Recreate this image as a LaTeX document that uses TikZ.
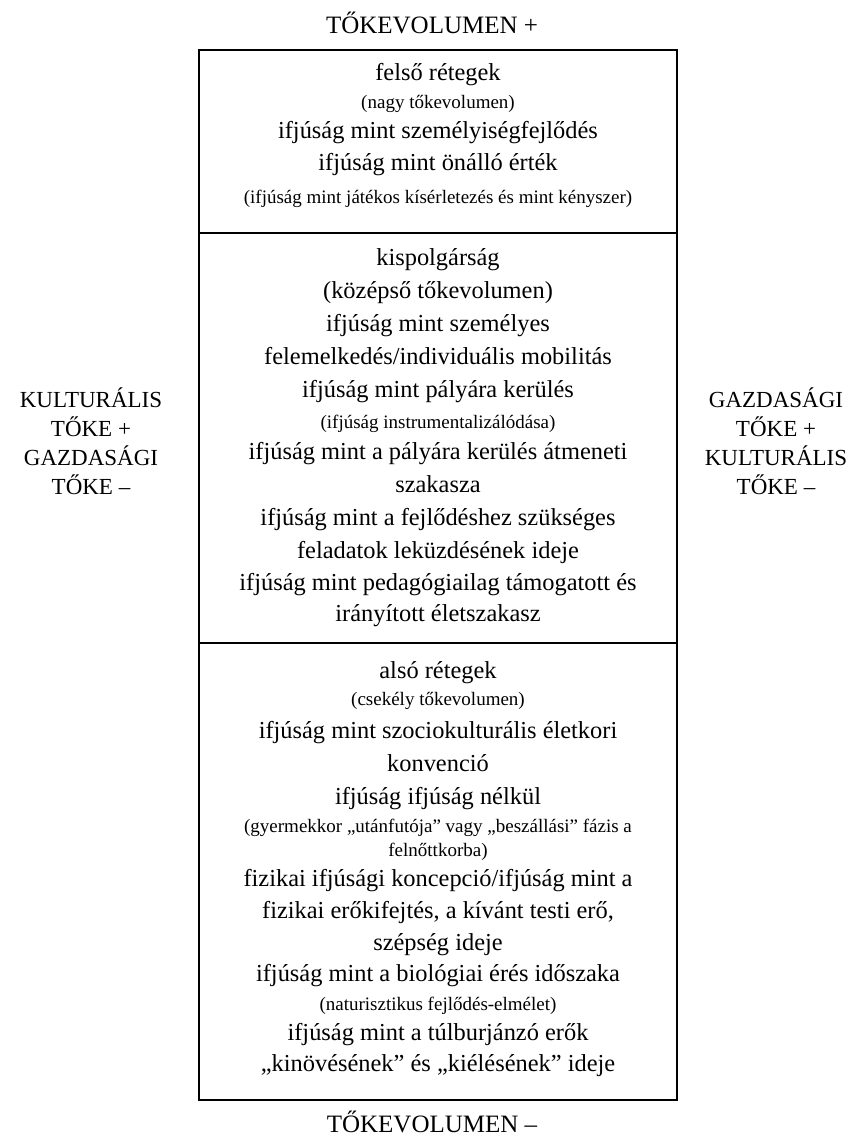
\documentclass[tikz,border=0pt]{standalone}
\usepackage{fontspec}
\setmainfont{Liberation Serif}
\usetikzlibrary{positioning}

\begin{document}
\begin{tikzpicture}[
   x=0.5pt,y=-0.5pt,
   layer/.style={draw,line width=1.2pt,minimum width=239pt,inner sep=0pt,outer sep=0pt},
   big/.style={font=\fontsize{12.2}{14}\selectfont,inner sep=0pt,text height=1.6ex,text depth=.4ex},
   note/.style={font=\fontsize{9.5}{11}\selectfont,inner sep=0pt,text height=1.6ex,text depth=.4ex},
   caps/.style={font=\fontsize{11.5}{14.5}\selectfont,align=center,inner sep=0pt},
   volume/.style={font=\fontsize{12.5}{15}\selectfont,inner sep=0pt}]
\useasboundingbox (0,0) rectangle (856,1138);
% the three strata
\node[layer,minimum height=91.5pt,anchor=north] (upper) at (438,50) {};
\node[layer,minimum height=205pt,below=0pt of upper] (middle) {};
\node[layer,minimum height=228.5pt,below=0pt of middle] (lower) {};
% axis labels
\node[volume] (volplus) at (432,23) {TŐKEVOLUMEN +};
\node[volume] (volminus) at (432,1122) {TŐKEVOLUMEN –};
\node[caps] (kultleft) at (91,441) {KULTURÁLIS\\TŐKE +\\GAZDASÁGI\\TŐKE –};
\node[caps] (gazdright) at (776,441) {GAZDASÁGI\\TŐKE +\\KULTURÁLIS\\TŐKE –};
% upper stratum
\node[big]  (u1) at (438,75)  {felső rétegek};
\node[note] (u2) at (438,103) {(nagy tőkevolumen)};
\node[big]  (u3) at (438,133) {ifjúság mint személyiségfejlődés};
\node[big]  (u4) at (438,165) {ifjúság mint önálló érték};
\node[note] (u5) at (438,198) {(ifjúság mint játékos kísérletezés és mint kényszer)};
% middle stratum
\node[big]  (m1)  at (438,260) {kispolgárság};
\node[big]  (m2)  at (438,293) {(középső tőkevolumen)};
\node[big]  (m3)  at (438,326) {ifjúság mint személyes};
\node[big]  (m4)  at (438,359) {felemelkedés/individuális mobilitás};
\node[big]  (m5)  at (438,392) {ifjúság mint pályára kerülés};
\node[note] (m6)  at (438,423) {(ifjúság instrumentalizálódása)};
\node[big]  (m7)  at (438,454) {ifjúság mint a pályára kerülés átmeneti};
\node[big]  (m8)  at (438,487) {szakasza};
\node[big]  (m9)  at (438,520) {ifjúság mint a fejlődéshez szükséges};
\node[big]  (m10) at (438,553) {feladatok leküzdésének ideje};
\node[big]  (m11) at (438,585) {ifjúság mint pedagógiailag támogatott és};
\node[big]  (m12) at (438,616) {irányított életszakasz};
% lower stratum
\node[big]  (l1)  at (438,673)  {alsó rétegek};
\node[note] (l2)  at (438,700)  {(csekély tőkevolumen)};
\node[big]  (l3)  at (438,733)  {ifjúság mint szociokulturális életkori};
\node[big]  (l4)  at (438,766)  {konvenció};
\node[big]  (l5)  at (438,799)  {ifjúság ifjúság nélkül};
\node[note] (l6)  at (438,827)  {(gyermekkor „utánfutója” vagy „beszállási” fázis a};
\node[note] (l7)  at (438,851)  {felnőttkorba)};
\node[big]  (l8)  at (438,881)  {fizikai ifjúsági koncepció/ifjúság mint a};
\node[big]  (l9)  at (438,913)  {fizikai erőkifejtés, a kívánt testi erő,};
\node[big]  (l10) at (438,945)  {szépség ideje};
\node[big]  (l11) at (438,976)  {ifjúság mint a biológiai érés időszaka};
\node[note] (l12) at (438,1005) {(naturisztikus fejlődés-elmélet)};
\node[big]  (l13) at (438,1035) {ifjúság mint a túlburjánzó erők};
\node[big]  (l14) at (438,1066) {„kinövésének” és „kiélésének” ideje};
\end{tikzpicture}
\end{document}
